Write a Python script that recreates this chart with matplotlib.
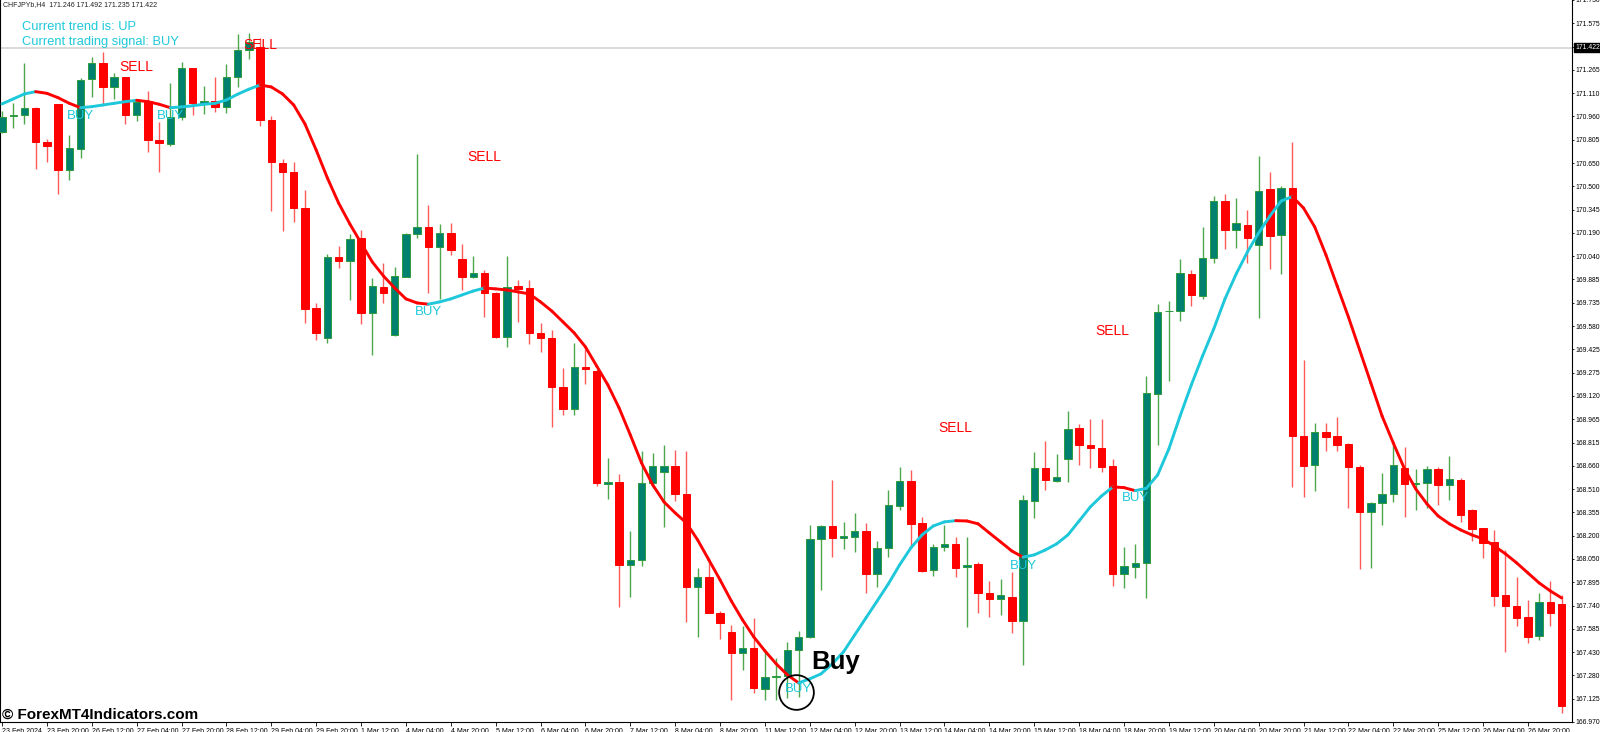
"""
CHFJPY H4 candlestick chart with a two-colour trend line and BUY/SELL signals,
styled after an MT4 screenshot.

Output: out.png (1600x732)
"""

import matplotlib
import matplotlib.font_manager as fm
import matplotlib.pyplot as plt
import matplotlib.transforms as mtransforms
import numpy as np
from matplotlib.collections import LineCollection

matplotlib.use("Agg")

plt.rcParams["font.family"] = ["Liberation Sans", "DejaVu Sans"]

# ---- data -----------------------------------------------------------------
opens = [
    170.867, 170.968, 170.977, 171.021, 170.797, 171.048, 170.614, 170.753, 171.213, 171.318,
    171.160, 171.226, 170.977, 171.069, 170.812, 170.786, 170.966, 171.285, 171.054, 171.071,
    171.032, 171.226, 171.406, 171.426, 170.944, 170.662, 170.599, 170.365, 169.701, 169.503,
    170.042, 170.013, 170.163, 169.668, 169.844, 169.525, 169.910, 170.190, 170.240, 170.108,
    170.196, 170.025, 169.906, 169.932, 169.800, 169.514, 169.848, 169.833, 169.540, 169.503,
    169.180, 169.035, 169.312, 169.289, 168.540, 168.557, 168.007, 168.040, 168.550, 168.623,
    168.660, 168.476, 167.864, 167.930, 167.688, 167.567, 167.424, 167.461, 167.187, 167.270,
    167.274, 167.446, 167.530, 168.177, 168.264, 168.183, 168.194, 168.233, 167.948, 168.117,
    168.396, 168.561, 168.282, 167.974, 168.124, 168.146, 167.992, 168.012, 167.820, 167.781,
    167.798, 167.639, 168.431, 168.645, 168.563, 168.705, 168.909, 168.799, 168.781, 168.660,
    167.948, 167.996, 168.018, 169.136, 169.681, 169.683, 169.928, 169.784, 170.031, 170.411,
    170.218, 170.251, 170.119, 170.487, 170.185, 170.493, 168.858, 168.667, 168.887, 168.858,
    168.806, 168.656, 168.359, 168.418, 168.474, 168.645, 168.542, 168.546, 168.639, 168.535,
    168.568, 168.370, 168.249, 168.161, 167.809, 167.738, 167.662, 167.538, 167.761, 167.748,
]
highs = [
    171.003, 171.056, 171.318, 171.032, 170.819, 171.050, 170.845, 171.219, 171.362, 171.391,
    171.256, 171.230, 171.083, 171.135, 170.933, 171.186, 171.325, 171.288, 171.168, 171.230,
    171.312, 171.510, 171.516, 171.485, 170.970, 170.685, 170.669, 170.482, 169.734, 170.058,
    170.112, 170.190, 170.218, 169.899, 170.002, 169.972, 170.196, 170.718, 170.383, 170.256,
    170.262, 170.124, 170.046, 169.954, 169.811, 170.046, 169.888, 169.888, 169.602, 169.558,
    169.305, 169.474, 169.431, 169.299, 168.711, 168.608, 168.231, 168.759, 168.744, 168.799,
    168.766, 168.759, 167.985, 168.040, 167.705, 167.611, 167.604, 167.659, 167.446, 167.391,
    167.501, 167.573, 168.271, 168.271, 168.568, 168.293, 168.348, 168.282, 168.167, 168.502,
    168.656, 168.634, 168.326, 168.146, 168.271, 168.194, 168.190, 168.029, 167.903, 167.913,
    167.963, 168.469, 168.755, 168.827, 168.740, 169.023, 168.938, 168.971, 168.971, 168.707,
    168.128, 168.144, 169.254, 169.730, 169.749, 170.025, 169.954, 170.236, 170.444, 170.456,
    170.427, 170.350, 170.706, 170.603, 170.508, 170.801, 169.360, 168.946, 168.942, 168.982,
    168.810, 168.667, 168.425, 168.612, 168.799, 168.784, 168.639, 168.660, 168.656, 168.726,
    168.579, 168.375, 168.253, 168.238, 168.106, 167.928, 167.776, 167.820, 167.903, 167.809,
]
lows = [
    170.858, 170.893, 170.916, 170.621, 170.665, 170.454, 170.548, 170.695, 171.098, 171.050,
    171.083, 170.918, 170.939, 170.731, 170.603, 170.774, 170.944, 170.977, 170.982, 170.995,
    170.988, 171.164, 171.345, 170.904, 170.345, 170.213, 170.273, 169.602, 169.492, 169.470,
    169.965, 169.756, 169.596, 169.393, 169.734, 169.520, 169.906, 170.163, 169.804, 169.761,
    170.053, 169.822, 169.902, 169.642, 169.503, 169.448, 169.613, 169.466, 169.411, 168.920,
    168.997, 168.997, 169.200, 168.530, 168.441, 167.732, 167.798, 168.000, 168.513, 168.256,
    168.431, 167.633, 167.530, 167.688, 167.517, 167.116, 167.314, 167.164, 167.116, 167.116,
    167.127, 167.138, 167.527, 167.842, 168.058, 168.111, 168.095, 167.820, 167.860, 168.062,
    168.370, 168.117, 167.963, 167.934, 168.101, 167.930, 167.600, 167.688, 167.666, 167.677,
    167.556, 167.347, 168.315, 168.502, 168.553, 168.553, 168.667, 168.649, 168.623, 167.868,
    167.853, 167.919, 167.787, 168.799, 169.223, 169.617, 169.716, 169.761, 169.998, 170.091,
    170.097, 169.998, 169.635, 169.959, 169.928, 168.520, 168.454, 168.497, 168.761, 168.761,
    168.381, 167.979, 167.985, 168.271, 168.425, 168.326, 168.370, 168.381, 168.403, 168.436,
    168.293, 168.167, 168.055, 167.736, 167.435, 167.604, 167.494, 167.512, 167.606, 167.028,
]
closes = [
    170.966, 170.975, 171.021, 170.801, 170.774, 170.614, 170.757, 171.208, 171.318, 171.160,
    171.226, 170.977, 171.065, 170.812, 170.790, 170.966, 171.289, 171.054, 171.071, 171.032,
    171.226, 171.406, 171.459, 170.944, 170.665, 170.603, 170.365, 169.697, 169.536, 170.042,
    170.015, 170.161, 169.668, 169.848, 169.804, 169.914, 170.190, 170.240, 170.108, 170.196,
    170.086, 169.906, 169.932, 169.800, 169.514, 169.844, 169.827, 169.540, 169.503, 169.184,
    169.035, 169.316, 169.299, 168.546, 168.557, 168.007, 168.040, 168.550, 168.660, 168.660,
    168.476, 167.864, 167.930, 167.692, 167.622, 167.424, 167.457, 167.193, 167.270, 167.276,
    167.446, 167.534, 168.177, 168.264, 168.183, 168.198, 168.233, 167.948, 168.117, 168.403,
    168.561, 168.278, 167.966, 168.124, 168.144, 167.987, 168.007, 167.820, 167.781, 167.809,
    167.639, 168.436, 168.645, 168.568, 168.586, 168.905, 168.799, 168.777, 168.652, 167.948,
    168.002, 168.018, 169.140, 169.679, 169.683, 169.932, 169.789, 170.031, 170.411, 170.218,
    170.262, 170.167, 170.475, 170.178, 170.493, 168.858, 168.662, 168.887, 168.854, 168.799,
    168.656, 168.359, 168.418, 168.476, 168.667, 168.540, 168.548, 168.641, 168.535, 168.573,
    168.337, 168.245, 168.154, 167.802, 167.738, 167.655, 167.530, 167.763, 167.688, 167.078,
]
trend_line = [
    171.050, 171.083, 171.116, 171.131, 171.120, 171.091, 171.054, 171.025, 171.032, 171.043,
    171.054, 171.065, 171.074, 171.065, 171.048, 171.025, 171.030, 171.038, 171.048, 171.054,
    171.076, 171.114, 171.147, 171.175, 171.162, 171.116, 171.043, 170.918, 170.746, 170.561,
    170.396, 170.258, 170.132, 170.007, 169.914, 169.835, 169.763, 169.736, 169.728, 169.743,
    169.763, 169.789, 169.815, 169.835, 169.829, 169.822, 169.809, 169.796, 169.743, 169.683,
    169.611, 169.538, 169.446, 169.320, 169.195, 169.043, 168.865, 168.680, 168.535, 168.423,
    168.350, 168.284, 168.172, 168.040, 167.908, 167.769, 167.644, 167.532, 167.439, 167.354,
    167.281, 167.228, 167.255, 167.288, 167.354, 167.433, 167.545, 167.657, 167.769, 167.882,
    168.007, 168.119, 168.205, 168.264, 168.291, 168.299, 168.297, 168.278, 168.218, 168.159,
    168.099, 168.058, 168.073, 168.106, 168.146, 168.205, 168.297, 168.390, 168.462, 168.522,
    168.517, 168.497, 168.513, 168.601, 168.773, 168.990, 169.195, 169.386, 169.565, 169.763,
    169.928, 170.073, 170.198, 170.310, 170.409, 170.438, 170.363, 170.238, 170.053, 169.848,
    169.644, 169.426, 169.208, 168.990, 168.812, 168.641, 168.509, 168.410, 168.330, 168.278,
    168.238, 168.205, 168.179, 168.132, 168.080, 168.020, 167.954, 167.888, 167.835, 167.789,
]

signal_bars   = [7, 15, 38, 71, 91, 101, 12, 23, 43, 85, 99]
signal_prices = [170.970, 170.970, 169.677, 167.189, 168.000, 168.449,
                 171.296, 171.439, 170.700, 168.914, 169.551]
signal_texts  = ["BUY"] * 6 + ["SELL"] * 5

time_labels = [
    "23 Feb 2024", "23 Feb 20:00", "26 Feb 12:00", "27 Feb 04:00", "27 Feb 20:00",
    "28 Feb 12:00", "29 Feb 04:00", "29 Feb 20:00", "1 Mar 12:00", "4 Mar 04:00",
    "4 Mar 20:00", "5 Mar 12:00", "6 Mar 04:00", "6 Mar 20:00", "7 Mar 12:00",
    "8 Mar 04:00", "8 Mar 20:00", "11 Mar 12:00", "12 Mar 04:00", "12 Mar 20:00",
    "13 Mar 12:00", "14 Mar 04:00", "14 Mar 20:00", "15 Mar 12:00", "18 Mar 04:00",
    "18 Mar 20:00", "19 Mar 12:00", "20 Mar 04:00", "20 Mar 20:00", "21 Mar 12:00",
    "22 Mar 04:00", "22 Mar 20:00", "25 Mar 12:00", "26 Mar 04:00", "26 Mar 20:00",
]
price_labels = [
    "171.730", "171.575", "", "171.265", "171.110", "170.960", "170.805", "170.650",
    "170.500", "170.345", "170.190", "170.040", "169.885", "169.735", "169.580", "169.425",
    "169.275", "169.120", "168.965", "168.815", "168.660", "168.510", "168.355", "168.200",
    "168.050", "167.895", "167.740", "167.585", "167.430", "167.280", "167.125", "166.970",
]
current_price = 171.422

# ---- style -----------------------------------------------------------------
W, H = 1600, 732
PLOT_RIGHT, PLOT_BOTTOM = 1572, 722   # px
BAR_PX, FIRST_BAR_PX = 11.22, 2.0
Y_TOP, Y_BOTTOM = 171.736, 166.970

BULL_BODY, BULL_EDGE, BULL_WICK = "#00806F", "#2E9B3E", "#4DA84D"
BEAR_BODY, BEAR_WICK = "#FF0000", "#FF5A5A"
CYAN, RED = "#1EC8DA", "#FF0000"

names = {f.name for f in fm.fontManager.ttflist}
if "Liberation Sans Narrow" in names:
    AXIS_FONT, PRICE_SIZE, TIME_SIZE = "Liberation Sans Narrow", 6, 6
else:
    AXIS_FONT, PRICE_SIZE, TIME_SIZE = "Liberation Sans", 4.9, 5


def main():
    o = np.array(opens)
    h = np.array(highs)
    lo = np.array(lows)
    c = np.array(closes)
    x = np.arange(len(o))
    bull = c >= o

    fig = plt.figure(figsize=(W / 100, H / 100), dpi=100, facecolor="white")
    ax = fig.add_axes([0, (H - PLOT_BOTTOM) / H, PLOT_RIGHT / W, PLOT_BOTTOM / H])
    ax.set_xlim(-FIRST_BAR_PX / BAR_PX, (PLOT_RIGHT - FIRST_BAR_PX) / BAR_PX)
    ax.set_ylim(Y_BOTTOM, Y_TOP)

    ax.axhline(current_price, color="#CFCFCF", lw=1.1, zorder=1)

    # candles
    ax.vlines(x, lo, h, colors=np.where(bull, BULL_WICK, BEAR_WICK), lw=1.0, zorder=2)
    bottoms = np.minimum(o, c)
    heights = np.maximum(np.abs(c - o), 0.004)
    ax.bar(x, heights, bottom=bottoms, width=0.66,
           color=np.where(bull, BULL_BODY, BEAR_BODY),
           edgecolor=np.where(bull, BULL_EDGE, BEAR_BODY), linewidth=0.7, zorder=3)

    # trend line, cyan while rising, red while falling
    tl = np.array(trend_line)
    pts = np.column_stack([x, tl])
    segs = np.stack([pts[:-1], pts[1:]], axis=1)
    seg_cols = [CYAN if tl[i + 1] >= tl[i] else RED for i in range(len(tl) - 1)]
    ax.add_collection(LineCollection(segs, colors=seg_cols, linewidths=2.1,
                                     capstyle="round", zorder=4))

    for b, p, t in zip(signal_bars, signal_prices, signal_texts):
        ax.text(b, p, t, ha="center", va="center", zorder=5,
                color=CYAN if t == "BUY" else RED,
                fontsize=9.5 if t == "BUY" else 10)

    # highlighted buy
    ax.plot(70.8, 167.168, marker="o", ms=25, mfc="none", mec="black", mew=1.3, zorder=6)
    ax.text(74.3, 167.363, "Buy", ha="center", va="center", fontsize=18.5,
            fontweight="bold", color="black", zorder=6)

    # axes
    for side in ("left", "right", "bottom"):
        ax.spines[side].set_color("black")
        ax.spines[side].set_linewidth(0.8)
    ax.spines["top"].set_visible(False)

    ax.yaxis.tick_right()
    ax.set_yticks(np.linspace(Y_TOP, Y_BOTTOM, len(price_labels)))
    ax.set_yticklabels(price_labels, fontfamily=AXIS_FONT)
    ax.tick_params(axis="y", direction="out", length=1.5, width=0.6, pad=0.8,
                   labelsize=PRICE_SIZE, colors="black")

    ax.set_xticks(np.arange(0, 4 * len(time_labels), 4))
    ax.set_xticklabels(time_labels, ha="left", fontfamily=AXIS_FONT)
    ax.tick_params(axis="x", direction="out", length=3, width=0.6, pad=1,
                   labelsize=TIME_SIZE, colors="black")

    blend = mtransforms.blended_transform_factory(ax.transAxes, ax.transData)
    ax.text(1.0 + 3 / PLOT_RIGHT, current_price, f"{current_price:.3f}", transform=blend,
            ha="left", va="center", color="white", fontsize=PRICE_SIZE,
            fontfamily=AXIS_FONT, zorder=7,
            bbox=dict(boxstyle="square,pad=0.12", fc="black", ec="black"))

    # overlay texts in pixel positions
    def px(xp, yp):
        return xp / W, 1 - yp / H

    fig.text(*px(3, 4.5), "CHFJPYb,H4  171.246 171.492 171.235 171.422",
             fontsize=5, color="#202020", va="center", ha="left")
    fig.text(*px(22.5, 27.5), "Current trend is: UP", fontsize=9.3, color=CYAN,
             va="center", ha="left")
    fig.text(*px(22.5, 42), "Current trading signal: BUY", fontsize=9.3, color=CYAN,
             va="center", ha="left")
    fig.text(*px(2, 719), "© ForexMT4Indicators.com", fontsize=11, fontweight="bold",
             color="black", va="baseline", ha="left")

    fig.savefig("out.png", dpi=100, facecolor="white")
    plt.close(fig)


if __name__ == "__main__":
    main()
